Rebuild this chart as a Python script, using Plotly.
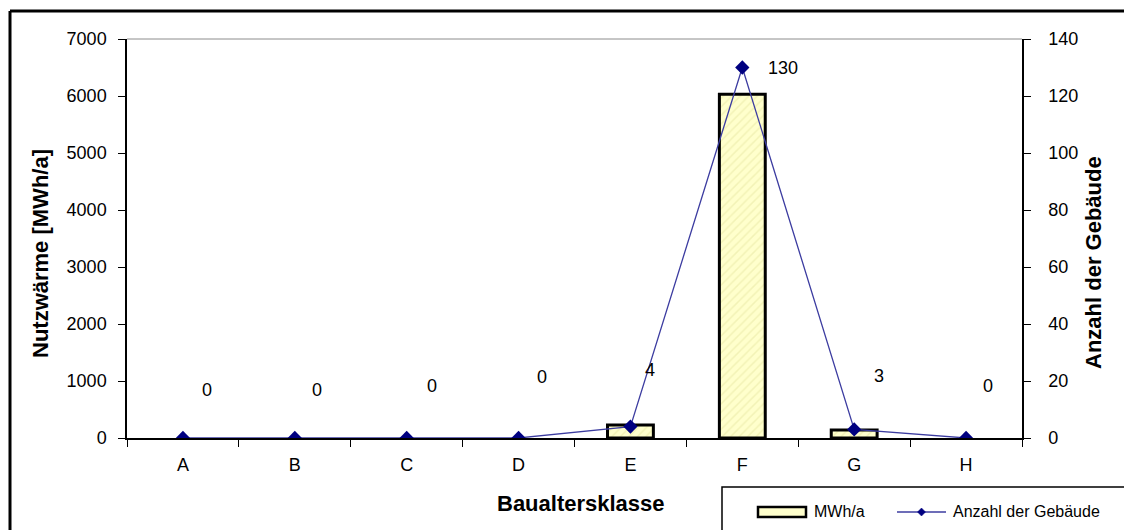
import plotly.graph_objects as go

categories = ["A", "B", "C", "D", "E", "F", "G", "H"]
mwh_values = [0, 0, 0, 0, 230, 6030, 140, 0]
building_counts = [0, 0, 0, 0, 4, 130, 3, 0]
left_ticks = [0, 1000, 2000, 3000, 4000, 5000, 6000, 7000]
right_ticks = [0, 20, 40, 60, 80, 100, 120, 140]
# label offsets in pixels (x right, y up) relative to each point
label_dx = [24, 22, 25, 23, 20, 41, 25, 22]
label_dy = [48, 48, 52, 61, 57, 0, 53, 52]

FONT = "Liberation Sans, Arial, sans-serif"

# plot-area geometry in pixels (used to convert pixel positions to paper coords)
W, H = 1124, 530
L, R, T, B = 127, 102, 39, 92
PW, PH = W - L - R, H - T - B


def px(xp):
    return (xp - L) / PW


def py(yp):
    return (H - B - yp) / PH


fig = go.Figure()
fig.add_trace(go.Bar(
    x=categories, y=mwh_values, name="MWh/a", width=0.41,
    marker=dict(color="#FFFFCC",
                line=dict(color="black", width=[3 if v > 0 else 0 for v in mwh_values]),
                pattern=dict(shape="/", fgcolor="#E6E6A0", bgcolor="#FFFFCC",
                             size=6, solidity=0.25)),
    yaxis="y", showlegend=False,
))
fig.add_trace(go.Scatter(
    x=categories, y=building_counts, name="Anzahl der Gebäude",
    mode="lines+markers",
    line=dict(color="#3C3CA0", width=1.3),
    marker=dict(symbol="diamond", size=11, color="#000080"),
    yaxis="y2", showlegend=False,
))

for c, v, dx, dy in zip(categories, building_counts, label_dx, label_dy):
    fig.add_annotation(x=c, y=v, xref="x", yref="y2", text=str(v),
                       showarrow=False, xshift=dx, yshift=dy,
                       font=dict(family=FONT, size=18, color="black"))


def note(x, y, text, size, angle=0, xanchor="center"):
    fig.add_annotation(x=px(x), y=py(y), xref="paper", yref="paper", text=text,
                       textangle=angle, showarrow=False, xanchor=xanchor, yanchor="middle",
                       font=dict(family=FONT, size=size, color="black"))


# axis titles
note(40, 254, "<b>Nutzwärme [MWh/a]</b>", 22, -90)
note(1093, 263, "<b>Anzahl der Gebäude</b>", 22, -90)
note(581, 503, "<b>Baualtersklasse</b>", 22)

# plot area top line
fig.add_shape(type="line", xref="paper", yref="paper", x0=0, x1=1, y0=1, y1=1,
              line=dict(color="#8C8C8C", width=1))
# outer chart border (top and left)
fig.add_shape(type="line", xref="paper", yref="paper", x0=px(10), x1=px(1140), y0=py(11), y1=py(11),
              line=dict(color="black", width=3))
fig.add_shape(type="line", xref="paper", yref="paper", x0=px(10), x1=px(10), y0=py(545), y1=py(11),
              line=dict(color="black", width=3))
# legend box
fig.add_shape(type="rect", xref="paper", yref="paper", x0=px(722), x1=px(1140), y0=py(545), y1=py(487),
              line=dict(color="black", width=1.5), fillcolor="white", layer="below")
# legend swatch: bar
fig.add_shape(type="rect", xref="paper", yref="paper", x0=px(758), x1=px(806), y0=py(517), y1=py(507),
              line=dict(color="black", width=2.5), fillcolor="#FFFFCC")
note(812, 512, "MWh/a", 16, xanchor="left")
# legend swatch: line with diamond
fig.add_shape(type="line", xref="paper", yref="paper", x0=px(897), x1=px(946), y0=py(512), y1=py(512),
              line=dict(color="#3C3CA0", width=1.3))
cx, cy = 921.5, 512
fig.add_shape(type="path", xref="paper", yref="paper",
              path=f"M {px(cx-4)} {py(cy)} L {px(cx)} {py(cy-4)} L {px(cx+4)} {py(cy)} L {px(cx)} {py(cy+4)} Z",
              line=dict(color="#000080", width=0.5), fillcolor="#000080")
note(951, 512, "Anzahl der Gebäude", 16, xanchor="left")

fig.update_layout(
    width=W, height=H,
    margin=dict(l=L, r=R, t=T, b=B, autoexpand=False),
    paper_bgcolor="white", plot_bgcolor="white",
    font=dict(family=FONT, size=18, color="black"),
    showlegend=False,
    xaxis=dict(range=[-0.5, 7.5], showline=True, linecolor="black", linewidth=1.5,
               ticks="outside", tickson="boundaries", ticklen=7, tickcolor="black",
               showgrid=False, zeroline=False, automargin=False,
               tickfont=dict(family=FONT, size=18), ticklabelstandoff=10),
    yaxis=dict(range=[0, 7000], tickvals=left_ticks, showline=True, linecolor="black", linewidth=1.5,
               ticks="outside", ticklen=7, tickcolor="black", showgrid=False, zeroline=False,
               automargin=False, tickfont=dict(family=FONT, size=18), ticklabelstandoff=8),
    yaxis2=dict(range=[0, 140], tickvals=right_ticks, overlaying="y", side="right",
                showline=True, linecolor="black", linewidth=1.5,
                ticks="outside", ticklen=7, tickcolor="black", showgrid=False, zeroline=False,
                automargin=False, tickfont=dict(family=FONT, size=18), ticklabelstandoff=14),
)

fig.write_html("out.html")
